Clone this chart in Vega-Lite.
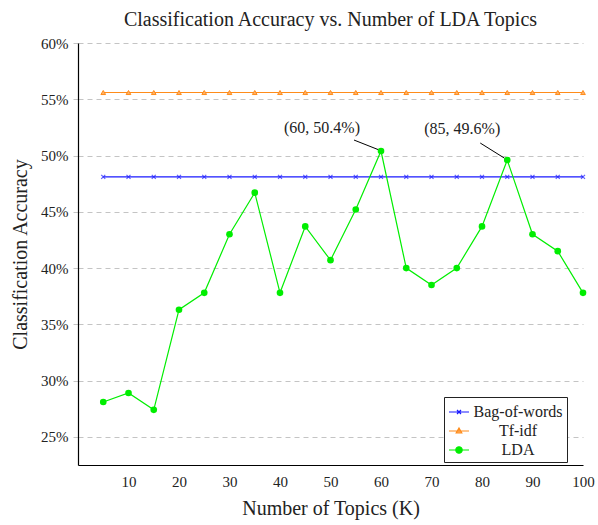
{
  "$schema": "https://vega.github.io/schema/vega-lite/v6.json",
  "width": 505,
  "height": 422,
  "autosize": "none",
  "padding": {"left": 78, "top": 43, "right": 15, "bottom": 60},
  "background": "white",
  "title": {"text": "Classification Accuracy vs. Number of LDA Topics", "font": "Liberation Serif", "fontSize": 20, "fontWeight": "normal", "color": "#222", "offset": 6, "anchor": "middle"},
  "config": {"view": {"stroke": null}, "font": "Liberation Serif"},
  "datasets": {
    "acc": [
      {"K": 5, "acc": 48.1, "series": "Bag-of-words"},
      {"K": 10, "acc": 48.1, "series": "Bag-of-words"},
      {"K": 15, "acc": 48.1, "series": "Bag-of-words"},
      {"K": 20, "acc": 48.1, "series": "Bag-of-words"},
      {"K": 25, "acc": 48.1, "series": "Bag-of-words"},
      {"K": 30, "acc": 48.1, "series": "Bag-of-words"},
      {"K": 35, "acc": 48.1, "series": "Bag-of-words"},
      {"K": 40, "acc": 48.1, "series": "Bag-of-words"},
      {"K": 45, "acc": 48.1, "series": "Bag-of-words"},
      {"K": 50, "acc": 48.1, "series": "Bag-of-words"},
      {"K": 55, "acc": 48.1, "series": "Bag-of-words"},
      {"K": 60, "acc": 48.1, "series": "Bag-of-words"},
      {"K": 65, "acc": 48.1, "series": "Bag-of-words"},
      {"K": 70, "acc": 48.1, "series": "Bag-of-words"},
      {"K": 75, "acc": 48.1, "series": "Bag-of-words"},
      {"K": 80, "acc": 48.1, "series": "Bag-of-words"},
      {"K": 85, "acc": 48.1, "series": "Bag-of-words"},
      {"K": 90, "acc": 48.1, "series": "Bag-of-words"},
      {"K": 95, "acc": 48.1, "series": "Bag-of-words"},
      {"K": 100, "acc": 48.1, "series": "Bag-of-words"},
      {"K": 5, "acc": 55.6, "series": "Tf-idf"},
      {"K": 10, "acc": 55.6, "series": "Tf-idf"},
      {"K": 15, "acc": 55.6, "series": "Tf-idf"},
      {"K": 20, "acc": 55.6, "series": "Tf-idf"},
      {"K": 25, "acc": 55.6, "series": "Tf-idf"},
      {"K": 30, "acc": 55.6, "series": "Tf-idf"},
      {"K": 35, "acc": 55.6, "series": "Tf-idf"},
      {"K": 40, "acc": 55.6, "series": "Tf-idf"},
      {"K": 45, "acc": 55.6, "series": "Tf-idf"},
      {"K": 50, "acc": 55.6, "series": "Tf-idf"},
      {"K": 55, "acc": 55.6, "series": "Tf-idf"},
      {"K": 60, "acc": 55.6, "series": "Tf-idf"},
      {"K": 65, "acc": 55.6, "series": "Tf-idf"},
      {"K": 70, "acc": 55.6, "series": "Tf-idf"},
      {"K": 75, "acc": 55.6, "series": "Tf-idf"},
      {"K": 80, "acc": 55.6, "series": "Tf-idf"},
      {"K": 85, "acc": 55.6, "series": "Tf-idf"},
      {"K": 90, "acc": 55.6, "series": "Tf-idf"},
      {"K": 95, "acc": 55.6, "series": "Tf-idf"},
      {"K": 100, "acc": 55.6, "series": "Tf-idf"},
      {"K": 5, "acc": 28.1, "series": "LDA"},
      {"K": 10, "acc": 28.9, "series": "LDA"},
      {"K": 15, "acc": 27.4, "series": "LDA"},
      {"K": 20, "acc": 36.3, "series": "LDA"},
      {"K": 25, "acc": 37.8, "series": "LDA"},
      {"K": 30, "acc": 43.0, "series": "LDA"},
      {"K": 35, "acc": 46.7, "series": "LDA"},
      {"K": 40, "acc": 37.8, "series": "LDA"},
      {"K": 45, "acc": 43.7, "series": "LDA"},
      {"K": 50, "acc": 40.7, "series": "LDA"},
      {"K": 55, "acc": 45.2, "series": "LDA"},
      {"K": 60, "acc": 50.4, "series": "LDA"},
      {"K": 65, "acc": 40.0, "series": "LDA"},
      {"K": 70, "acc": 38.5, "series": "LDA"},
      {"K": 75, "acc": 40.0, "series": "LDA"},
      {"K": 80, "acc": 43.7, "series": "LDA"},
      {"K": 85, "acc": 49.6, "series": "LDA"},
      {"K": 90, "acc": 43.0, "series": "LDA"},
      {"K": 95, "acc": 41.5, "series": "LDA"},
      {"K": 100, "acc": 37.8, "series": "LDA"}
    ],
    "notes": [
      {"K": 60, "acc": 50.4, "label": "(60, 50.4%)"},
      {"K": 85, "acc": 49.6, "label": "(85, 49.6%)"}
    ]
  },
  "data": {"name": "acc"},
  "encoding": {
    "x": {"field": "K", "type": "quantitative", "scale": {"domain": [0, 100], "nice": false},
      "axis": {"values": [10, 20, 30, 40, 50, 60, 70, 80, 90, 100], "title": "Number of Topics (K)", "grid": false, "ticks": false, "labelFlush": false, "domainColor": "black", "domainWidth": 1.2, "labelFont": "Liberation Serif", "labelFontSize": 15, "labelColor": "#222", "labelPadding": 9, "titleFont": "Liberation Serif", "titleFontSize": 20, "titleFontWeight": "normal", "titleColor": "#222", "titlePadding": 9}},
    "y": {"field": "acc", "type": "quantitative", "scale": {"domain": [22.5, 60], "nice": false, "zero": false},
      "axis": {"values": [25, 30, 35, 40, 45, 50, 55, 60], "labelExpr": "datum.value + '%'", "title": "Classification Accuracy", "grid": true, "gridDash": [5, 4], "gridColor": "#c4c4c4", "tickColor": "#c4c4c4", "tickSize": 7, "tickDash": [5, 3], "domainColor": "black", "domainWidth": 1.2, "labelFont": "Liberation Serif", "labelFontSize": 15, "labelColor": "#222", "labelPadding": 3, "labelFlush": false, "titleFont": "Liberation Serif", "titleFontSize": 20, "titleFontWeight": "normal", "titleColor": "#222", "titlePadding": 10}}
  },
  "layer": [
    {
      "mark": {"type": "line", "strokeWidth": 1.2},
      "encoding": {
        "color": {"field": "series", "type": "nominal",
          "scale": {"domain": ["Bag-of-words", "Tf-idf", "LDA"], "range": ["#1a1aff", "#ff8c1a", "#00ee00"]},
          "legend": {"orient": "none", "legendX": 366, "legendY": 354, "title": null, "strokeColor": "#222", "fillColor": "white", "padding": 4, "cornerRadius": 0,
            "symbolSize": 400, "symbolStrokeWidth": 1.2, "rowPadding": -1, "labelFont": "Liberation Serif", "labelFontSize": 16, "labelColor": "#222", "labelAlign": "center", "labelOffset": 48,
            "encode": {"symbols": {"update": {
              "shape": {"signal": "datum.value === 'Bag-of-words' ? 'M-1,0H1M-0.2,-0.2L0.2,0.2M-0.2,0.2L0.2,-0.2' : (datum.value === 'Tf-idf' ? 'M-1,0H1M0,-0.3L0.28,0.2L-0.28,0.2Z' : 'M-1,0H1M-0.32,0A0.32,0.32 0 1,0 0.32,0A0.32,0.32 0 1,0 -0.32,0Z')"},
              "fill": {"signal": "datum.value === 'Bag-of-words' ? 'transparent' : (datum.value === 'Tf-idf' ? '#ffb066' : '#00ee00')"},
              "fillOpacity": {"value": 1}
            }}}}
        }
      }
    },
    {
      "transform": [{"filter": "datum.series === 'Bag-of-words'"}],
      "mark": {"type": "point", "shape": "M-1,-1L1,1M-1,1L1,-1", "size": 16, "filled": false, "stroke": "#1a1aff", "strokeWidth": 1.2}
    },
    {
      "transform": [{"filter": "datum.series === 'Tf-idf'"}],
      "mark": {"type": "point", "shape": "triangle-up", "size": 22, "filled": true, "fill": "#ffb066", "stroke": "#ff8c1a", "strokeWidth": 1, "opacity": 1}
    },
    {
      "transform": [{"filter": "datum.series === 'LDA'"}],
      "mark": {"type": "point", "shape": "circle", "size": 44, "filled": true, "fill": "#00ee00", "opacity": 1}
    },
    {
      "data": {"name": "notes"},
      "transform": [{"filter": "datum.K === 60"}],
      "layer": [
        {"mark": {"type": "rule", "color": "black", "strokeWidth": 1, "xOffset": -3, "yOffset": -1.5, "x2Offset": -27, "y2Offset": -11},
          "encoding": {"x2": {"field": "K"}, "y2": {"field": "acc"}}},
        {"mark": {"type": "text", "dx": -59, "dy": -23, "font": "Liberation Serif", "fontSize": 16, "color": "#222"},
          "encoding": {"text": {"field": "label"}}}
      ]
    },
    {
      "data": {"name": "notes"},
      "transform": [{"filter": "datum.K === 85"}],
      "layer": [
        {"mark": {"type": "rule", "color": "black", "strokeWidth": 1, "xOffset": -3, "yOffset": -2, "x2Offset": -27, "y2Offset": -17},
          "encoding": {"x2": {"field": "K"}, "y2": {"field": "acc"}}},
        {"mark": {"type": "text", "dx": -45, "dy": -31, "font": "Liberation Serif", "fontSize": 16, "color": "#222"},
          "encoding": {"text": {"field": "label"}}}
      ]
    }
  ]
}
